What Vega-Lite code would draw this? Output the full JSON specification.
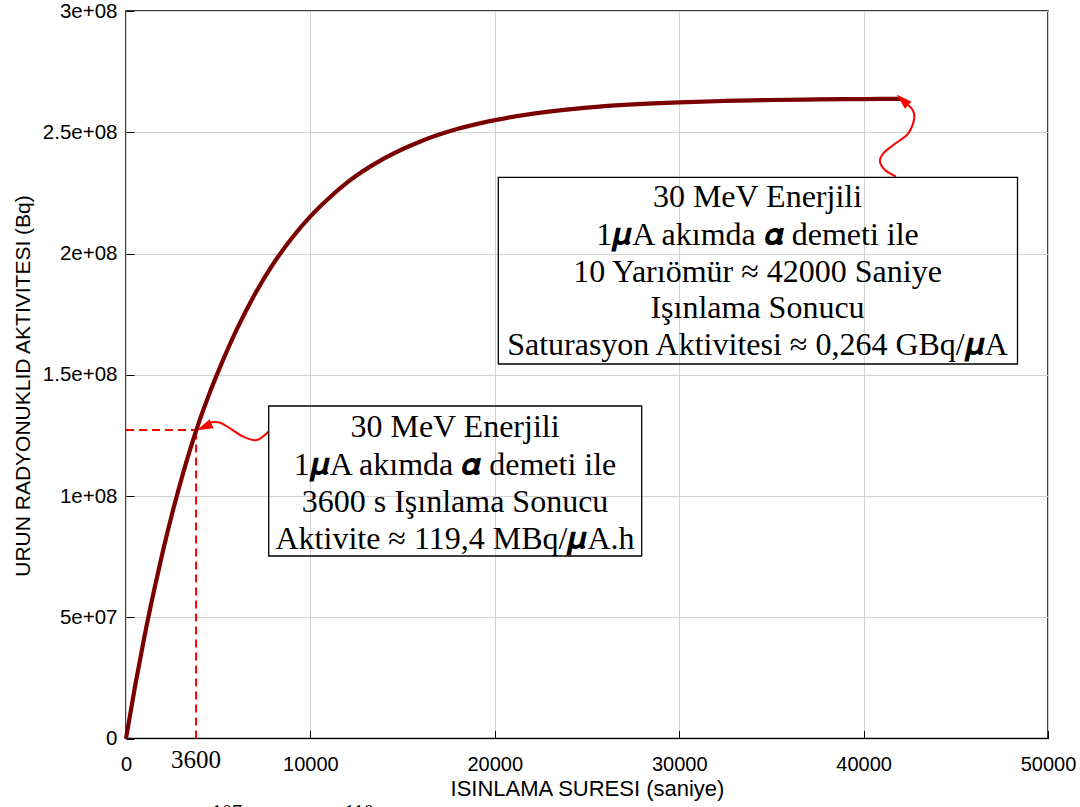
{
  "$schema": "https://vega.github.io/schema/vega-lite/v6.json",
  "width": 922,
  "height": 727.5,
  "autosize": {"type": "none"},
  "padding": {"left": 126, "top": 11, "right": 32, "bottom": 69},
  "background": "white",
  "config": {
    "view": {"stroke": "#000", "strokeWidth": 1.5},
    "axis": {
      "grid": true,
      "gridColor": "#d2d2d2",
      "gridWidth": 1,
      "domain": false,
      "tickColor": "#000",
      "tickSize": -8,
      "labelFlush": false,
      "labelFont": "Liberation Sans",
      "labelColor": "#000",
      "titleFont": "Liberation Sans",
      "titleFontWeight": "normal",
      "titleColor": "#000"
    }
  },
  "datasets": {
    "curve": [
      {"x": 0, "y": 0},
      {"x": 500, "y": 21900000},
      {"x": 1000, "y": 42000000},
      {"x": 1500, "y": 60300000},
      {"x": 2000, "y": 77200000},
      {"x": 2500, "y": 92700000},
      {"x": 3000, "y": 106800000},
      {"x": 3500, "y": 119700000},
      {"x": 4000, "y": 131400000},
      {"x": 4500, "y": 141800000},
      {"x": 5000, "y": 151300000},
      {"x": 6000, "y": 168600000},
      {"x": 7000, "y": 183400000},
      {"x": 8000, "y": 195900000},
      {"x": 9000, "y": 206400000},
      {"x": 10000, "y": 215300000},
      {"x": 11000, "y": 222800000},
      {"x": 12000, "y": 229300000},
      {"x": 14000, "y": 239200000},
      {"x": 16000, "y": 246300000},
      {"x": 18000, "y": 251400000},
      {"x": 20000, "y": 255000000},
      {"x": 22500, "y": 258100000},
      {"x": 25000, "y": 260150000},
      {"x": 27500, "y": 261470000},
      {"x": 30000, "y": 262340000},
      {"x": 32500, "y": 262910000},
      {"x": 35000, "y": 263290000},
      {"x": 37500, "y": 263540000},
      {"x": 40000, "y": 263690000},
      {"x": 42000, "y": 263780000}
    ],
    "dash": [
      {"x": 0, "x2": 3800, "y": 127200000, "y2": 127200000},
      {"x": 3800, "x2": 3800, "y": 0, "y2": 127200000}
    ],
    "arrows": [
      {"g": "a1", "i": 0, "x": 7717, "y": 126520000},
      {"g": "a1", "i": 1, "x": 7088, "y": 123090000},
      {"g": "a1", "i": 2, "x": 6361, "y": 124450000},
      {"g": "a1", "i": 3, "x": 5640, "y": 127920000},
      {"g": "a1", "i": 4, "x": 5098, "y": 130230000},
      {"g": "a1", "i": 5, "x": 4648, "y": 130390000},
      {"g": "a1", "i": 6, "x": 4284, "y": 129280000},
      {"g": "a2", "i": 0, "x": 41757, "y": 231670000},
      {"g": "a2", "i": 1, "x": 41161, "y": 234430000},
      {"g": "a2", "i": 2, "x": 40889, "y": 237860000},
      {"g": "a2", "i": 3, "x": 41068, "y": 241320000},
      {"g": "a2", "i": 4, "x": 41610, "y": 244740000},
      {"g": "a2", "i": 5, "x": 42424, "y": 249570000},
      {"g": "a2", "i": 6, "x": 42750, "y": 255750000},
      {"g": "a2", "i": 7, "x": 42663, "y": 259170000},
      {"g": "a2", "i": 8, "x": 42300, "y": 262000000}
    ],
    "head1": [{"x": 4241, "y": 128450000}],
    "head2": [{"x": 42104, "y": 263380000}],
    "boxes": [
      {"x": 20190, "x2": 48346, "y": 231420000, "y2": 154430000},
      {"x": 7739, "x2": 27966, "y": 137110000, "y2": 75260000}
    ],
    "notes": [
      {"x": 34246, "y": 219180000, "label": "30 MeV Enerjili"},
      {"x": 34246, "y": 203710000, "label": "1𝝁A akımda 𝜶 demeti ile"},
      {"x": 34246, "y": 188450000, "label": "10 Yarıömür ≈ 42000 Saniye"},
      {"x": 34246, "y": 173200000, "label": "Işınlama Sonucu"},
      {"x": 34246, "y": 158140000, "label": "Saturasyon Aktivitesi ≈ 0,264 GBq/𝝁A"},
      {"x": 17842, "y": 124330000, "label": "30 MeV Enerjili"},
      {"x": 17842, "y": 108660000, "label": "1𝝁A akımda 𝜶 demeti ile"},
      {"x": 17842, "y": 93400000, "label": "3600 s Işınlama Sonucu"},
      {"x": 17842, "y": 78350000, "label": "Aktivite ≈ 119,4 MBq/𝝁A.h"}
    ],
    "tick3600": [{"x": 3800, "y": -12370000, "label": "3600"}],
    "caption": [
      {"x": 5477, "y": -33200000, "label": "107"},
      {"x": 12636, "y": -33200000, "label": "110"}
    ]
  },
  "encoding": {
    "x": {
      "field": "x",
      "type": "quantitative",
      "scale": {"domain": [0, 50000], "nice": false, "zero": false},
      "axis": {
        "values": [0, 10000, 20000, 30000, 40000, 50000],
        "format": "d",
        "labelFontSize": 20,
        "labelPadding": 24,
        "titleFontSize": 22,
        "titleY": 50,
        "titleBaseline": "middle"
      },
      "title": "ISINLAMA SURESI (saniye)"
    },
    "y": {
      "field": "y",
      "type": "quantitative",
      "scale": {"domain": [0, 300000000], "nice": false, "zero": false},
      "axis": {
        "values": [0, 50000000, 100000000, 150000000, 200000000, 250000000, 300000000],
        "labelExpr": "datum.value == 0 ? '0' : replace(format(datum.value, '~e'), 'e+', 'e+0')",
        "labelFontSize": 20.5,
        "labelPadding": 17,
        "titleFontSize": 21,
        "titleX": -103,
        "titleY": 374.5,
        "titleAngle": 270,
        "titleAlign": "center",
        "titleBaseline": "middle"
      },
      "title": "URUN RADYONUKLID AKTIVITESI (Bq)"
    }
  },
  "layer": [
    {
      "data": {"name": "dash"},
      "mark": {"type": "rule", "color": "#ff0000", "strokeWidth": 2, "strokeDash": [8, 5]},
      "encoding": {
        "x2": {"field": "x2"},
        "y2": {"field": "y2"}
      }
    },
    {
      "data": {"name": "curve"},
      "mark": {"type": "line", "color": "#7a0000", "strokeWidth": 4.2, "interpolate": "monotone"},
      "encoding": {}
    },
    {
      "data": {"name": "arrows"},
      "mark": {"type": "line", "color": "#ff0000", "strokeWidth": 2, "interpolate": "cardinal"},
      "encoding": {
        "detail": {"field": "g"},
        "order": {"field": "i", "type": "quantitative"}
      }
    },
    {
      "data": {"name": "head1"},
      "mark": {"type": "point", "shape": "M -1 0 L 1 -0.6 L 1 0.6 Z", "size": 260, "filled": true, "color": "#ff0000", "opacity": 1, "angle": 336}
    },
    {
      "data": {"name": "head2"},
      "mark": {"type": "point", "shape": "M -1 0 L 1 -0.6 L 1 0.6 Z", "size": 250, "filled": true, "color": "#ff0000", "opacity": 1, "angle": 43}
    },
    {
      "data": {"name": "boxes"},
      "mark": {"type": "rect", "fill": null, "fillOpacity": 0, "stroke": "#000", "strokeWidth": 1.3},
      "encoding": {
        "x2": {"field": "x2"},
        "y2": {"field": "y2"}
      }
    },
    {
      "data": {"name": "notes"},
      "mark": {"type": "text", "font": "Liberation Serif", "fontSize": 32, "color": "#000", "align": "center", "baseline": "alphabetic"},
      "encoding": {"text": {"field": "label"}}
    },
    {
      "data": {"name": "tick3600"},
      "mark": {"type": "text", "font": "Liberation Serif", "fontSize": 25, "color": "#000", "align": "center", "baseline": "alphabetic"},
      "encoding": {"text": {"field": "label"}}
    },
    {
      "data": {"name": "caption"},
      "mark": {"type": "text", "font": "Liberation Serif", "fontSize": 20, "color": "#000", "align": "center", "baseline": "alphabetic"},
      "encoding": {"text": {"field": "label"}}
    }
  ]
}
